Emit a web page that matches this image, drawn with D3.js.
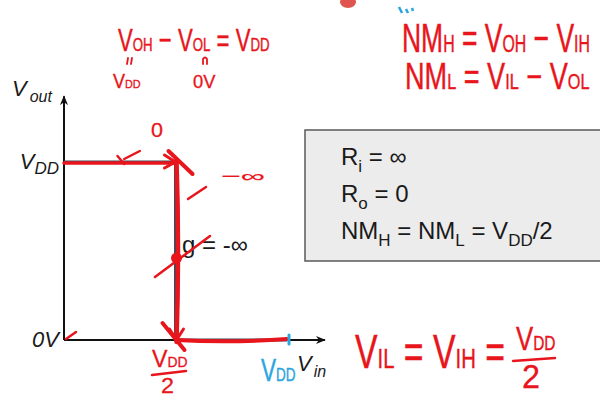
<!DOCTYPE html>
<html>
<head>
<meta charset="utf-8">
<script src="https://cdn.jsdelivr.net/npm/d3@7/dist/d3.min.js"></script>
<style>
  html, body { margin: 0; padding: 0; background: #fff; }
  svg { display: block; }
  .ink { fill: #e8151c; font-family: "Liberation Sans", Arial, sans-serif; stroke: #e8151c; stroke-width: 0.3; }
  .blue { fill: #2aa6df; stroke: #2aa6df; }
  .printed { fill: #1a1a1a; font-family: "Liberation Sans", Arial, sans-serif; }
</style>
</head>
<body>
<script>
// Ideal inverter voltage transfer characteristic (normalised to VDD)
const vin  = [0, 0.5, 0.5, 1.0];
const vout = [1, 1, 0, 0];

// Labelled levels on the axes
const yTickValues = [0, 1];
const yTickLabels = [["0V", ""], ["V", "DD"]];
const xTickValues = [0.5, 1];

// Properties of the ideal inverter listed in the box
const propRows = [
  [["R", ""], ["i", "sub"], [" = ∞", ""]],
  [["R", ""], ["o", "sub"], [" = 0", ""]],
  [["NM", ""], ["H", "sub"], [" = NM", ""], ["L", "sub"], [" = V", ""], ["DD", "sub"], ["/2", ""]]
];

const W = 600, H = 399;
const svg = d3.select("body").append("svg").attr("width", W).attr("height", H);

const x = d3.scaleLinear().domain([0, 1]).range([64, 287]);
const y = d3.scaleLinear().domain([0, 1]).range([340, 162]);

// arrow markers
const defs = svg.append("defs");
defs.append("marker").attr("id", "arr").attr("viewBox", "0 0 10 10")
  .attr("refX", 9).attr("refY", 5).attr("markerWidth", 5).attr("markerHeight", 5)
  .attr("orient", "auto").attr("markerUnits", "strokeWidth")
  .append("path").attr("d", "M0,1 L10,5 L0,9 L3,5 Z").attr("fill", "#111");

// axes
svg.append("line").attr("x1", x(0)).attr("y1", y(0)).attr("x2", x(0)).attr("y2", y(1.37))
  .attr("stroke", "#111").attr("stroke-width", 2).attr("marker-end", "url(#arr)");
svg.append("line").attr("x1", x(0)).attr("y1", y(0)).attr("x2", x(1.17)).attr("y2", y(0))
  .attr("stroke", "#111").attr("stroke-width", 2).attr("marker-end", "url(#arr)");

// axis titles
const vo = svg.append("text").attr("class", "printed").attr("x", 12).attr("y", 96)
  .style("font-style", "italic").style("font-size", "22px");
vo.append("tspan").text("V");
vo.append("tspan").attr("dx", 3).attr("dy", 6).style("font-size", "16px").text("out");

const vi = svg.append("text").attr("class", "printed").attr("x", 297).attr("y", 371)
  .style("font-style", "italic").style("font-size", "22px");
vi.append("tspan").text("V");
vi.append("tspan").attr("dx", 2).attr("dy", 6).style("font-size", "16px").text("in");

// y level labels
yTickValues.forEach((v, i) => {
  const t = svg.append("text").attr("class", "printed").attr("text-anchor", "end")
    .attr("x", x(0) - 5).attr("y", y(v) + 7)
    .style("font-style", "italic").style("font-size", "22px");
  t.append("tspan").text(yTickLabels[i][0]);
  if (yTickLabels[i][1]) t.append("tspan").attr("dy", 5).style("font-size", "17px").text(yTickLabels[i][1]);
});

// the transfer curve
const line = d3.line().x((d, i) => x(vin[i])).y((d, i) => y(vout[i]));
svg.append("path").datum(vin).attr("d", line)
  .attr("fill", "none").attr("stroke", "#3d4b5a").attr("stroke-width", 3);

// property box
svg.append("rect").attr("x", 305).attr("y", 130).attr("width", 310).attr("height", 131)
  .attr("fill", "#ececec").attr("stroke", "#5a5a5a").attr("stroke-width", 1.5);
propRows.forEach((row, r) => {
  const t = svg.append("text").attr("class", "printed").attr("x", 341).attr("y", 165 + r * 37)
    .style("font-size", "24px");
  let sub = false;
  row.forEach(([s, k]) => {
    const sp = t.append("tspan").text(s);
    if (k === "sub" && !sub) { sp.attr("dy", 7).style("font-size", "17px"); sub = true; }
    else if (k !== "sub" && sub) { sp.attr("dy", -7); sub = false; }
  });
});

// gain label at the switching point
svg.append("text").attr("class", "printed").attr("x", 182).attr("y", 253)
  .style("font-size", "24px").text("g = -∞");

// ---------------- red pen annotations ----------------
const red = "#e8151c";
const pen = (d, w = 3.5, c = red) => svg.append("path").attr("d", d).attr("fill", "none")
  .attr("stroke", c).attr("stroke-width", w).attr("stroke-linecap", "round").attr("stroke-linejoin", "round");

// traced transfer curve
const xm = x(vin[1]) + 1;
pen(`M${x(vin[0])},${y(vout[0]) + 1} L${xm - 2},${y(vout[1]) + 1}`, 3.5);
pen(`M${xm},${y(vout[1]) - 2} Q${xm + 3},${y(0.5)} ${xm},${y(vout[2]) + 2}`, 4.5);
pen(`M${xm},${y(vout[2])} Q${x(0.75)},${y(0) + 3} ${x(vin[3])},${y(vout[3]) - 1}`, 4);
// arrow heads on the traced curve
pen(`M${xm - 12},${y(1) - 7} L${xm - 1},${y(1)} L${xm - 12},${y(1) + 6}`, 3);
pen(`M${xm - 7},${y(0) - 11} L${xm},${y(0)} L${xm + 7},${y(0) - 11}`, 3);
// corner strokes
pen(`M${xm - 8},${y(1) - 11} L${xm + 16},${y(1) + 12}`, 4);
pen(`M${xm - 14},${y(0) - 17} L${xm + 8},${y(0) + 10}`, 4);
// slope ticks
pen(`M${x(0.27)},${y(1) - 3} L${x(0.34)},${y(1) - 11}`, 2.5);
pen(`M${x(0.24)},${y(1) - 6} L${x(0.27)},${y(1) + 2}`, 2.5);
pen(`M188,199 L206,187`, 2.5);
pen(`M155,277 L210,236`, 2.5);
pen(`M${x(0) + 2},${y(0) - 1} L${x(0) + 12},${y(0) - 8}`, 2.5);
svg.append("circle").attr("cx", xm).attr("cy", y(0.46)).attr("r", 5.5).attr("fill", red);

// blue VDD mark on the input axis
pen(`M${x(1) + 2},${y(0) - 5} L${x(1) + 2},${y(0) + 4}`, 3, "#2aa6df");

// handwritten text: fitted to a width and stretched to a letter height
function ink(xp, yp, parts, width, capH, cls = "ink") {
  const size = 20;
  const t = svg.append("text").attr("class", cls).attr("x", 0).attr("y", 0);
  const spans = parts.map(([s, small]) => {
    const sp = t.append("tspan").text(s);
    sp.node().__k = small ? 0.6 : 1;
    return sp;
  });
  const apply = sz => spans.forEach(sp => sp.style("font-size", (sz * sp.node().__k) + "px"));
  apply(size);
  let sz = size;
  if (width) {
    const w = t.node().getBBox().width;
    if (w > 0) { sz = size * width / w; apply(sz); }
  }
  const k = capH ? capH / (0.716 * sz) : 1;
  t.attr("transform", `translate(${xp},${yp}) scale(1,${k})`);
  return t;
}

ink(118, 51, [["V", 0], ["OH", 1], [" − V", 0], ["OL", 1], [" = V", 0], ["DD", 1]], 152, 23);
// vertical equals marks under the two levels
pen(`M128,58 L127,64 M132,58 L131,64`, 1.8);
pen(`M203,64 L203,59 Q205,56 207,59 L207,64`, 1.8);
ink(113, 88, [["V", 0], ["DD", 1]], 28, 14);
ink(193, 88, [["0V", 0]], 23, 13);

ink(402, 52, [["NM", 0], ["H", 1], [" = V", 0], ["OH", 1], [" − V", 0], ["IH", 1]], 188, 29);
ink(405, 89, [["NM", 0], ["L", 1], [" = V", 0], ["IL", 1], [" − V", 0], ["OL", 1]], 185, 26);

ink(355, 368, [["V", 0], ["IL", 1], [" = V", 0], ["IH", 1], [" =", 0]], 150, 34);
ink(516, 350, [["V", 0], ["DD", 1]], 40, 24);
pen(`M513,361 L555,358`, 2.5);
ink(522, 388, [["2", 0]], 18, 24);

// VDD/2 under the switching point
ink(152, 367, [["V", 0], ["DD", 1]], 36, 17);
pen(`M152,375 L186,371`, 2.5);
ink(161, 393, [["2", 0]], 13, 16);

// slope notes along the curve
ink(151, 137, [["0", 0]], 12, 14);
ink(221, 182, [["−∞", 0]], 44, 12);

// blue VDD on the input axis
ink(261, 381, [["V", 0], ["DD", 1]], 35, 23, "ink blue");

// stray pen marks at the top edge
svg.append("ellipse").attr("cx", 348).attr("cy", 2).attr("rx", 8).attr("ry", 6).attr("fill", "#d9362f").attr("opacity", 0.85);
svg.append("path").attr("d", "M399,7 L402,13 M406,9 L408,13 M412,8 L413,11")
  .attr("stroke", "#2aa6df").attr("stroke-width", 2.5).attr("fill", "none");
</script>
</body>
</html>
